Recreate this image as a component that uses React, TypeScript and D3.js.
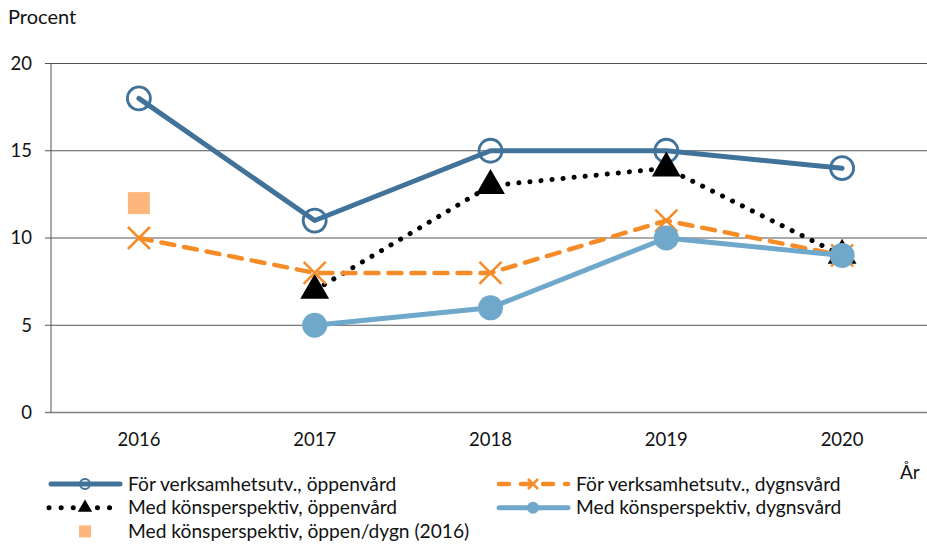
import React, { useRef, useEffect } from 'react';
import * as d3 from 'd3';

const years = ["2016", "2017", "2018", "2019", "2020"];
const yTicks = [0, 5, 10, 15, 20];

const forOppen = [18, 11, 15, 15, 14];
const forDygn = [10, 8, 8, 11, 9];
const medOppen = [null, 7, 13, 14, 9];
const medDygn = [null, 5, 6, 10, 9];
const medOppenDygn2016 = [12, null, null, null, null];

const FONT = "Lato, 'Open Sans', sans-serif";

const darkBlue = "#41739a";
const orange = "#f68c28";
const lightBlue = "#6fa8cb";
const peach = "#fdb77c";

export default function App() {
  const ref = useRef<SVGSVGElement>(null);

  useEffect(() => {
    const svg = d3.select(ref.current);
    svg.selectAll("*").remove();

    const margin = { top: 63.5, left: 51, right: -3, bottom: 134.5 };
    const width = 927;
    const height = 547;

    const x = d3.scaleBand<string>()
      .domain(years)
      .range([margin.left, width - margin.right]);
    const y = d3.scaleLinear()
      .domain([0, 20])
      .range([height - margin.bottom, margin.top]);

    const cx = (i: number) => (x(years[i]) as number) + x.bandwidth() / 2;

    // Gridlines
    svg.append("g")
      .selectAll("line")
      .data(yTicks)
      .enter()
      .append("line")
      .attr("x1", margin.left - 6)
      .attr("x2", width)
      .attr("y1", d => y(d))
      .attr("y2", d => y(d))
      .attr("stroke", d => d === 0 ? "#808080" : "#555")
      .attr("stroke-width", d => d === 0 ? 1.5 : 1);

    // Y axis line
    svg.append("line")
      .attr("x1", margin.left)
      .attr("x2", margin.left)
      .attr("y1", y(20))
      .attr("y2", y(0))
      .attr("stroke", "#555")
      .attr("stroke-width", 1);

    // Y tick labels
    svg.append("g")
      .selectAll("text")
      .data(yTicks)
      .enter()
      .append("text")
      .attr("x", 32)
      .attr("y", d => y(d))
      .attr("dy", "0.35em")
      .attr("text-anchor", "end")
      .attr("font-family", FONT)
      .attr("font-size", 18.5)
      .attr("fill", "#111")
      .text(d => d);

    // X labels
    svg.append("g")
      .selectAll("text")
      .data(years)
      .enter()
      .append("text")
      .attr("x", (d, i) => cx(i))
      .attr("y", 440)
      .attr("dy", "0.35em")
      .attr("text-anchor", "middle")
      .attr("font-family", FONT)
      .attr("font-size", 18.5)
      .attr("fill", "#111")
      .text(d => d);

    svg.append("text")
      .attr("x", 8)
      .attr("y", 24)
      .attr("font-family", FONT)
      .attr("font-size", 20)
      .attr("fill", "#111")
      .text("Procent");

    svg.append("text")
      .attr("x", 900)
      .attr("y", 479)
      .attr("font-family", FONT)
      .attr("font-size", 19)
      .attr("fill", "#111")
      .text("År");

    const line = d3.line<number | null>()
      .defined(d => d != null)
      .x((d, i) => cx(i))
      .y(d => y(d as number));

    const plot = svg.append("g");

    // För verksamhetsutv., öppenvård
    plot.append("path")
      .datum(forOppen)
      .attr("d", line)
      .attr("fill", "none")
      .attr("stroke", darkBlue)
      .attr("stroke-width", 5)
      .attr("stroke-linejoin", "round")
      .attr("stroke-linecap", "round");
    plot.append("g")
      .selectAll("circle")
      .data(forOppen)
      .enter()
      .append("circle")
      .attr("cx", (d, i) => cx(i))
      .attr("cy", d => y(d))
      .attr("r", 11.5)
      .attr("fill", "none")
      .attr("stroke", darkBlue)
      .attr("stroke-width", 2.8);

    // Med könsperspektiv, öppenvård
    plot.append("path")
      .datum(medOppen)
      .attr("d", line)
      .attr("fill", "none")
      .attr("stroke", "#000")
      .attr("stroke-width", 5)
      .attr("stroke-dasharray", "0.1 11")
      .attr("stroke-linecap", "round");
    const tri = d3.symbol().type(d3.symbolTriangle).size(360);
    plot.append("g")
      .selectAll("path")
      .data(medOppen.map((d, i) => ({ d, i })).filter(p => p.d != null))
      .enter()
      .append("path")
      .attr("d", tri)
      .attr("transform", p => `translate(${cx(p.i)},${y(p.d as number)})`)
      .attr("fill", "#000");

    // För verksamhetsutv., dygnsvård
    plot.append("path")
      .datum(forDygn)
      .attr("d", line)
      .attr("fill", "none")
      .attr("stroke", orange)
      .attr("stroke-width", 4.5)
      .attr("stroke-dasharray", "13 10")
      .attr("stroke-linecap", "round");
    plot.append("g")
      .selectAll("path")
      .data(forDygn)
      .enter()
      .append("path")
      .attr("d", "M-11,-11L11,11M-11,11L11,-11")
      .attr("transform", (d, i) => `translate(${cx(i)},${y(d)})`)
      .attr("stroke", orange)
      .attr("stroke-width", 2.5)
      .attr("fill", "none");

    // Med könsperspektiv, dygnsvård
    plot.append("path")
      .datum(medDygn)
      .attr("d", line)
      .attr("fill", "none")
      .attr("stroke", lightBlue)
      .attr("stroke-width", 5)
      .attr("stroke-linejoin", "round");
    plot.append("g")
      .selectAll("circle")
      .data(medDygn.map((d, i) => ({ d, i })).filter(p => p.d != null))
      .enter()
      .append("circle")
      .attr("cx", p => cx(p.i))
      .attr("cy", p => y(p.d as number))
      .attr("r", 12.5)
      .attr("fill", lightBlue);

    // Med könsperspektiv, öppen/dygn (2016)
    plot.append("g")
      .selectAll("rect")
      .data(medOppenDygn2016.map((d, i) => ({ d, i })).filter(p => p.d != null))
      .enter()
      .append("rect")
      .attr("x", p => cx(p.i) - 11)
      .attr("y", p => y(p.d as number) - 11)
      .attr("width", 22)
      .attr("height", 22)
      .attr("fill", peach);

    // Legend
    const legendItems = [
      { label: "För verksamhetsutv., öppenvård", col: 0, row: 0, kind: "darkBlue" },
      { label: "För verksamhetsutv., dygnsvård", col: 1, row: 0, kind: "orange" },
      { label: "Med könsperspektiv, öppenvård", col: 0, row: 1, kind: "black" },
      { label: "Med könsperspektiv, dygnsvård", col: 1, row: 1, kind: "lightBlue" },
      { label: "Med könsperspektiv, öppen/dygn (2016)", col: 0, row: 2, kind: "square" },
    ];
    const legendX = [49, 497];
    const legendY0 = 484;
    const legendRow = 23.7;

    legendItems.forEach(item => {
      const lx = legendX[item.col];
      const ly = legendY0 + item.row * legendRow;
      const g = svg.append("g").attr("transform", `translate(${lx},${ly})`);
      const mid = 36;
      if (item.kind === "darkBlue") {
        g.append("line").attr("x1", 2).attr("x2", 71).attr("y1", 0).attr("y2", 0)
          .attr("stroke", darkBlue).attr("stroke-width", 5).attr("stroke-linecap", "round");
        g.append("circle").attr("cx", mid).attr("cy", 0).attr("r", 5)
          .attr("fill", "none").attr("stroke", darkBlue).attr("stroke-width", 2);
      } else if (item.kind === "orange") {
        g.append("line").attr("x1", 2).attr("x2", 71).attr("y1", 0).attr("y2", 0)
          .attr("stroke", orange).attr("stroke-width", 4.5)
          .attr("stroke-dasharray", "10 12").attr("stroke-linecap", "round");
        g.append("path").attr("d", "M-5,-5L5,5M-5,5L5,-5")
          .attr("transform", `translate(${mid},0)`)
          .attr("stroke", orange).attr("stroke-width", 2.5);
      } else if (item.kind === "black") {
        g.append("line").attr("x1", 0).attr("x2", 71).attr("y1", 0).attr("y2", 0)
          .attr("stroke", "#000").attr("stroke-width", 5)
          .attr("stroke-dasharray", "0.1 12").attr("stroke-linecap", "round");
        g.append("path").attr("d", d3.symbol().type(d3.symbolTriangle).size(90))
          .attr("transform", `translate(${mid},0)`).attr("fill", "#000");
      } else if (item.kind === "lightBlue") {
        g.append("line").attr("x1", 2).attr("x2", 71).attr("y1", 0).attr("y2", 0)
          .attr("stroke", lightBlue).attr("stroke-width", 5).attr("stroke-linecap", "round");
        g.append("circle").attr("cx", mid).attr("cy", 0).attr("r", 6).attr("fill", lightBlue);
      } else {
        g.append("rect").attr("x", mid - 6).attr("y", -6).attr("width", 12).attr("height", 12)
          .attr("fill", peach);
      }
      g.append("text")
        .attr("x", 79)
        .attr("y", 0)
        .attr("dy", "0.35em")
        .attr("font-family", FONT)
        .attr("font-size", 19.2)
        .attr("fill", "#111")
        .text(item.label);
    });
  }, []);

  return (
    <svg ref={ref} width={927} height={547}
      style={{ position: "absolute", left: 0, top: 0, background: "#fff" }} />
  );
}
